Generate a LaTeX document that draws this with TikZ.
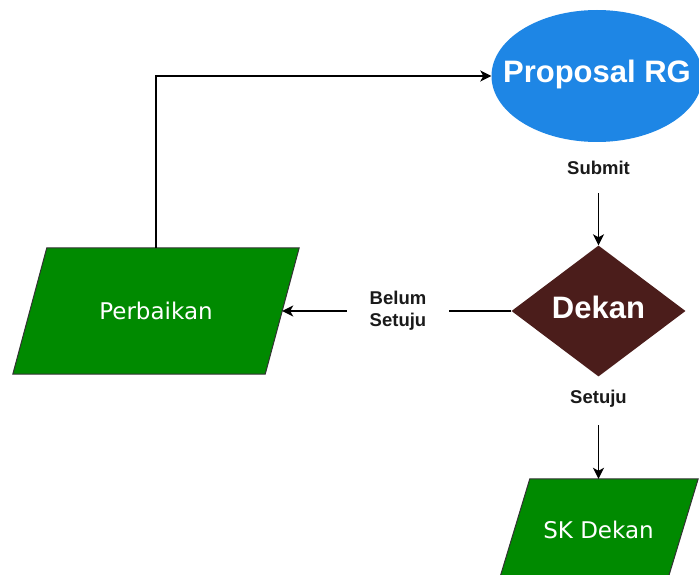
\documentclass[tikz,border=0pt]{standalone}
\usepackage{fontspec}
\setmainfont{Liberation Sans}
\newfontfamily\boxfont{DejaVu Sans}
\usetikzlibrary{shapes.geometric,arrows.meta,backgrounds}
\definecolor{propblue}{HTML}{1E86E5}
\definecolor{dekanred}{HTML}{4B1D1B}
\definecolor{boxgreen}{HTML}{008A00}
\definecolor{labelink}{HTML}{1A1A1A}
\begin{document}
\begin{tikzpicture}[x=1pt,y=-1pt,
  flow/.style={line width=1.5pt, draw=black},
  arr/.style={flow, -{Stealth[length=11pt,width=11pt,inset=3pt]}},
  lbl/.style={font=\fontsize{18.5}{22}\selectfont\bfseries, text=labelink, align=center, inner sep=0pt},
  iotext/.style={rectangle, text=white, font=\boxfont\fontsize{23}{26}\selectfont, inner sep=0pt},
  ioshape/.style={draw=black!80, line width=1pt, fill=boxgreen},
  bigtext/.style={text=white, font=\fontsize{31}{34}\selectfont\bfseries, inner sep=0pt}]
\useasboundingbox (0,0) rectangle (699,575);
\clip (0,0) rectangle (699,575);

% process shapes
\node[ellipse, fill=propblue, minimum width=211pt, minimum height=132pt, inner sep=0pt,
  label={[bigtext, yshift=1.5pt]center:Proposal RG}] (prop) at (597,76) {};
\node[diamond, fill=dekanred, minimum width=174pt, minimum height=131pt, inner sep=0pt,
  label={[bigtext, yshift=4pt]center:Dekan}] (dekan) at (598.5,311) {};

% input/output boxes: the node is the mid-body of a slanted parallelogram
\node[iotext, minimum width=252pt, minimum height=126pt] (perb) at (156,311) {Perbaikan};
\node[iotext, minimum width=168pt, minimum height=102pt] (sk) at (598.5,530) {SK Dekan};
\begin{scope}[on background layer]
  \path[ioshape] ([xshift=17pt]perb.north west) -- ([xshift=17pt]perb.north east)
    -- ([xshift=-17pt]perb.south east) -- ([xshift=-17pt]perb.south west) -- cycle;
  \path[ioshape] ([xshift=15.5pt]sk.north west) -- ([xshift=15.5pt]sk.north east)
    -- ([xshift=-15.5pt]sk.south east) -- ([xshift=-15.5pt]sk.south west) -- cycle;
\end{scope}

% edge labels
\node[lbl, minimum height=50pt] (submit) at (598.5,168) {Submit};
\node[lbl, minimum height=52pt] (setuju) at (598.5,399) {Setuju};
\node[lbl, minimum width=102pt] (belum) at (398,311) {Belum\\Setuju};

% connectors
\draw[arr] (submit.south) -- (dekan.north);
\draw[flow] (dekan.west) -- (belum.east);
\draw[arr] (belum.west) -- (perb.east);
\draw[arr] (setuju.south) -- (sk.north);
\draw[arr] (perb.north) |- (prop.west);
\end{tikzpicture}
\end{document}
